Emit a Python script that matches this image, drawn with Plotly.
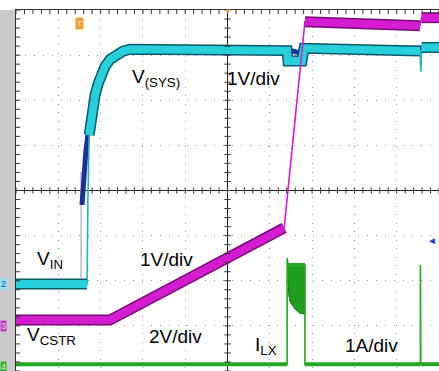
import plotly.graph_objects as go

# Scope screen in divisions: 10 horizontal x 8 vertical, centre of the graticule at (0, 0)

# Channel 1 (dark blue) - V(SYS) probe
ch1_t = [-3.44, -3.40, -3.35, -3.28, -3.20, -3.11, -3.01, -2.90, -2.75, -2.59, -2.30, 1.41, 1.62, 1.78, 1.83, 5.00]
ch1_v = [-0.32, 0.41, 0.85, 1.39, 1.83, 2.23, 2.54, 2.76, 2.94, 3.05, 3.12, 3.12, 3.07, 3.05, 3.14, 3.16]
ch1_ghost_t = [-3.46, -3.46]
ch1_ghost_v = [-1.94, 0.41]

# Channel 2 (cyan) - V_IN stepping up into V(SYS)
ch2_t = [-5.00, -3.32, -3.30, -3.28, -3.27, -3.20, -3.13, -3.06, -2.99, -2.90, -2.78, -2.64,
         -2.47, -2.30, -0.65, 1.41, 1.43, 1.76, 1.81, 3.13, 4.55, 4.57, 4.59, 5.00]
ch2_v = [-2.07, -2.07, -0.21, 0.60, 1.23, 1.78, 2.12, 2.36, 2.56, 2.74, 2.90, 3.00,
         3.09, 3.13, 3.12, 3.10, 2.87, 2.87, 3.15, 3.13, 3.09, 2.63, 3.17, 3.17]

# Channel 3 (magenta) - V_CSTR
ch3_t = [-5.00, -2.78, 1.34, 1.83, 4.55, 4.59, 5.00]
ch3_v = [-2.87, -2.87, -0.83, 3.74, 3.65, 3.83, 3.83]

# Channel 4 (green) - I_LX
ch4_t = [-5.00, 1.41, 1.41, 1.43, 1.83, 1.83, 4.56, 4.56, 4.57, 5.00]
ch4_v = [-3.85, -3.85, -1.50, -1.65, -1.65, -3.85, -3.85, -1.65, -3.85, -3.85]
ilx_block_t = [1.43, 1.45, 1.48, 1.52, 1.60, 1.71, 1.83]
ilx_block_hi = [-1.65, -1.65, -1.65, -1.65, -1.65, -1.65, -1.65]
ilx_block_lo = [-1.98, -2.32, -2.47, -2.54, -2.63, -2.72, -2.74]

# Screen annotations
label_text = ["V<sub>(SYS)</sub>", "1V/div", "V<sub>IN</sub>", "1V/div",
              "V<sub>CSTR</sub>", "2V/div", "I<sub>LX</sub>", "1A/div"]
label_t = [-2.30, -0.06, -4.55, -2.11, -4.79, -1.90, 0.60, 2.73]
label_v = [2.49, 2.49, -1.54, -1.54, -3.23, -3.23, -3.45, -3.43]

FONT = "Liberation Sans, Arial, sans-serif"
fig = go.Figure()


def runs_between(n, fast):
    """Index ranges of slow (thick) parts, split at fast-edge segments."""
    runs, start = [], 0
    for i in fast:
        if i > start:
            runs.append((start, i))
        start = i + 1
    if n - 1 > start:
        runs.append((start, n - 1))
    return runs


def add_channel(t, v, color, edge, width, fast, thin_color=None):
    fig.add_trace(go.Scatter(x=t, y=v, mode="lines",
                             line=dict(color=thin_color or color, width=1.6)))
    xs, ys = [], []
    for a, b in runs_between(len(t), fast):
        xs += t[a:b + 1] + [None]
        ys += v[a:b + 1] + [None]
    if edge:
        fig.add_trace(go.Scatter(x=xs, y=ys, mode="lines",
                                 line=dict(color=edge, width=width + 3)))
    fig.add_trace(go.Scatter(x=xs, y=ys, mode="lines",
                             line=dict(color=color, width=width)))


# channel 1 (mostly hidden behind channel 2)
fig.add_trace(go.Scatter(x=ch1_ghost_t, y=ch1_ghost_v, mode="lines",
                         line=dict(color="#b9b4de", width=1.5)))
add_channel(ch1_t, ch1_v, "#1d2f9e", None, 5, [])
# channel 2
add_channel(ch2_t, ch2_v, "#27d0d8", "#0c5870", 8, [1, 2, 3, 20, 21], thin_color="#1cb6c6")
# channel 4
fig.add_trace(go.Scatter(x=ilx_block_t + ilx_block_t[::-1],
                         y=ilx_block_hi + ilx_block_lo[::-1],
                         fill="toself", fillcolor="#1d9e1d", mode="lines",
                         line=dict(color="#127812", width=1)))
add_channel(ch4_t, ch4_v, "#22a822", None, 4, [1, 2, 4, 6, 7])
# channel 3
add_channel(ch3_t, ch3_v, "#d41cd0", "#7a0a78", 8, [2, 4])

# graticule ticks: centre cross and top/left borders
tx, ty = [], []
k = 0
while k <= 50:
    x = -5 + 0.2 * k
    tx += [x, x, None, x, x, None]
    ty += [-0.07, 0.07, None, 4, 3.91, None]
    k += 1
k = 0
while k <= 40:
    y = -4 + 0.2 * k
    tx += [-0.075, 0.075, None, -5, -4.9, None]
    ty += [y, y, None, y, y, None]
    k += 1
fig.add_trace(go.Scatter(x=tx, y=ty, mode="lines", line=dict(color="#333333", width=1)))

ann = []
for txt, x, y in zip(label_text, label_t, label_v):
    ann.append(dict(x=x, y=y, text=txt, showarrow=False, xanchor="left", yanchor="middle",
                    font=dict(family=FONT, size=19, color="#000000")))

# channel markers on the left edge
for txt, y, bg, fg in [("2", -2.07, "#86e4f0", "#1b4fb0"), ("3", -3.0, "#c23ac2", "#f4d0f4"),
                       ("4", -3.92, "#2fae2f", "#d6f5d6")]:
    ann.append(dict(xref="paper", x=-16 / 423, y=y, text=txt, showarrow=False,
                    xanchor="left", yanchor="middle", bgcolor=bg, borderpad=0,
                    font=dict(family=FONT, size=9, color=fg)))
# trigger position and level markers
ann.append(dict(x=-3.49, y=3.71, text="T", showarrow=False, bgcolor="#f0a030", borderpad=1,
                font=dict(family=FONT, size=8, color="#ffe9c0")))
ann.append(dict(x=0, y=3.97, text="▼", showarrow=False, yanchor="middle",
                font=dict(family=FONT, size=8, color="#f0a030")))
ann.append(dict(xref="paper", x=1.0, y=-1.10, text="◄", showarrow=False, xanchor="right",
                font=dict(family=FONT, size=10, color="#2a44d8")))

fig.update_layout(
    width=439, height=371,
    margin=dict(l=16, r=0, t=10, b=0),
    paper_bgcolor="#ffffff", plot_bgcolor="#ffffff",
    showlegend=False,
    annotations=ann,
    shapes=[dict(type="rect", xref="paper", yref="paper", x0=-16 / 423, x1=-1 / 423,
                 y0=0, y1=1, fillcolor="#c9c9c9", line=dict(width=0), layer="below")],
    xaxis=dict(range=[-5, 5], dtick=1, tick0=0, showticklabels=False, ticks="",
               showgrid=True, gridcolor="#9a9a9a", griddash="1px,7.5px", gridwidth=1,
               zeroline=True, zerolinecolor="#222222", zerolinewidth=1,
               showline=True, mirror=True, linecolor="#333333", linewidth=1),
    yaxis=dict(range=[-4, 4], dtick=1, tick0=0, showticklabels=False, ticks="",
               showgrid=True, gridcolor="#9a9a9a", griddash="1px,8px", gridwidth=1,
               zeroline=True, zerolinecolor="#222222", zerolinewidth=1,
               showline=True, mirror=True, linecolor="#333333", linewidth=1),
)

fig.write_html("out.html")
